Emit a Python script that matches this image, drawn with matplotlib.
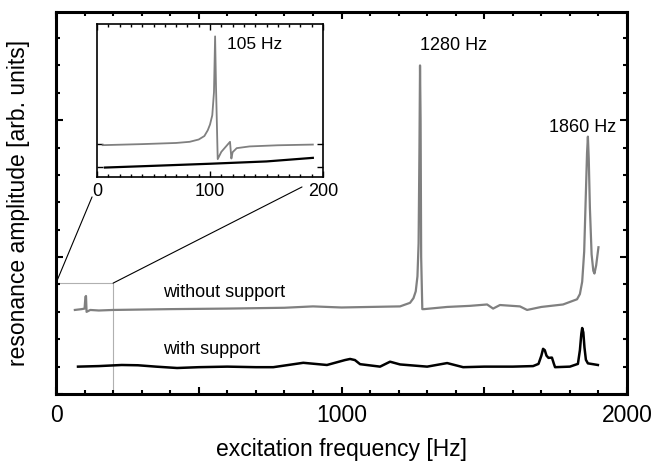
# resonance spectra of the sample with and without support, plus a zoom on the low-frequency part
import numpy as np
import matplotlib
matplotlib.use('Agg')
import matplotlib.pyplot as plt
from matplotlib.patches import Rectangle, ConnectionPatch
from matplotlib.ticker import MultipleLocator, FuncFormatter

plt.rcParams['font.family'] = ['Liberation Sans', 'DejaVu Sans']

# Main spectrum, without support (grey)
f_free = [66, 90, 100, 103, 105, 107, 120, 150, 200, 400, 600, 800, 900, 1000, 1100, 1205, 1240,
          1252, 1260, 1266, 1270, 1273, 1275, 1277, 1279, 1283, 1289, 1370, 1450, 1510, 1531, 1555,
          1625, 1650, 1700, 1776, 1825, 1835, 1843, 1850, 1855, 1860, 1863, 1866, 1870, 1876,
          1882, 1886, 1892, 1900]
a_free = [3.07, 3.1, 3.12, 3.55, 3.58, 3.0, 3.07, 3.05, 3.07, 3.1, 3.12, 3.15, 3.2, 3.16, 3.18, 3.2, 3.33,
          3.5, 3.75, 4.3, 5.5, 9.0, 12.0, 10.0, 5.0, 3.1, 3.1, 3.18, 3.22, 3.27, 3.12, 3.25,
          3.2, 3.07, 3.18, 3.27, 3.46, 3.65, 4.1, 5.2, 7.0, 8.8, 9.4, 8.6, 6.8, 5.1,
          4.5, 4.4, 4.7, 5.36]

# Main spectrum, with support (black)
f_supp = [77, 150, 230, 287, 350, 424, 500, 600, 700, 761, 866, 949, 1012, 1030, 1047, 1065, 1135,
          1170, 1205, 1300, 1370, 1426, 1500, 1600, 1671, 1690, 1700, 1706, 1712, 1718, 1725, 1737,
          1744, 1748, 1800, 1828, 1835, 1840, 1843, 1847, 1851, 1856, 1863, 1898]
a_supp = [1.0, 1.02, 1.06, 1.05, 1.0, 0.95, 0.98, 1.0, 0.98, 0.98, 1.14, 1.06, 1.24, 1.28, 1.24, 1.09, 1.0,
          1.18, 1.08, 1.0, 1.13, 0.98, 1.0, 1.0, 1.02, 1.1, 1.4, 1.65, 1.6, 1.4, 1.32, 1.33,
          1.1, 0.98, 1.0, 1.1, 1.6, 2.2, 2.41, 2.25, 1.7, 1.25, 1.12, 1.06]

# Inset (0-200 Hz, finer scan)
fi_free = [5, 40, 70, 82, 90, 95, 98, 100, 102, 103.5, 104.5, 105.3, 106.8, 110, 117.7, 118.9, 120,
           123.6, 135, 160, 191]
ai_free = [2.91, 3.0, 3.1, 3.2, 3.4, 3.7, 4.2, 4.7, 5.5, 7.5, 12.33, 8.0, 1.7, 2.33, 3.2, 1.75, 2.3,
           2.65, 2.8, 2.9, 2.96]
fi_supp = [7, 50, 100, 150, 191]
ai_supp = [0.97, 1.12, 1.3, 1.5, 1.81]

peak_labels = ['1280 Hz', '1860 Hz']
inset_label = '105 Hz'
zoom_fmax = 200
zoom_amax = 4.05

grey = '#808080'

fig = plt.figure(figsize=(6.56, 4.61), dpi=100)
ax = fig.add_axes([0.0854, 0.1453, 0.8704, 0.8286])

ax.plot(f_free, a_free, color=grey, lw=1.6)
ax.plot(f_supp, a_supp, color='black', lw=1.8)

ax.set_xlim(0, 2000)
ax.set_ylim(0, 13.95)
ax.xaxis.set_major_locator(MultipleLocator(500))
ax.xaxis.set_minor_locator(MultipleLocator(100))
ax.xaxis.set_major_formatter(FuncFormatter(lambda v, p: '%d' % v if v % 1000 == 0 else ''))
ax.yaxis.set_major_locator(MultipleLocator(5))
ax.yaxis.set_minor_locator(MultipleLocator(1))
ax.yaxis.set_major_formatter(FuncFormatter(lambda v, p: ''))
ax.tick_params(which='both', direction='in', top=True, right=True, width=1.5, labelsize=16.5, pad=7)
ax.tick_params(which='major', length=5)
ax.tick_params(which='minor', length=3)
for s in ax.spines.values():
    s.set_linewidth(2.2)

ax.set_xlabel('excitation frequency [Hz]', fontsize=16.5, labelpad=8)
ax.set_ylabel('resonance amplitude [arb. units]', fontsize=16.5, labelpad=12)

ax.text(1394, 12.74, peak_labels[0], fontsize=13, ha='center', va='center')
ax.text(1843, 9.74, peak_labels[1], fontsize=13, ha='center', va='center')
ax.text(375, 3.72, 'without support', fontsize=13, ha='left', va='center')
ax.text(375, 1.64, 'with support', fontsize=13, ha='left', va='center')

# zoom box
ax.add_patch(Rectangle((0, 0), zoom_fmax, zoom_amax, fill=False, ec='#b0b0b0', lw=0.8))

# inset
axi = fig.add_axes([0.1479, 0.616, 0.3445, 0.3319])
axi.plot(fi_free, ai_free, color=grey, lw=1.3)
axi.plot(fi_supp, ai_supp, color='black', lw=1.6)
axi.set_xlim(0, 200)
axi.set_ylim(0.15, 13.4)
axi.xaxis.set_major_locator(MultipleLocator(100))
axi.xaxis.set_minor_locator(MultipleLocator(10))
axi.set_yticks([1, 3])
axi.yaxis.set_major_formatter(FuncFormatter(lambda v, p: ''))
axi.tick_params(which='both', direction='in', top=True, right=True, width=1, labelsize=13, pad=4)
axi.tick_params(which='major', length=4)
axi.tick_params(which='minor', length=2)
for s in axi.spines.values():
    s.set_linewidth(1.2)
axi.text(115, 11.6, inset_label, fontsize=12.5, ha='left', va='center')

# lines from the zoom box to the inset
for xa, xb, yb in [(0, -0.022, -0.13), (zoom_fmax, 0.907, -0.065)]:
    con = ConnectionPatch(xyA=(xa, zoom_amax), coordsA=ax.transData,
                          xyB=(xb, yb), coordsB=axi.transAxes, color='black', lw=0.8)
    fig.add_artist(con)

fig.savefig('out.png', dpi=100)
